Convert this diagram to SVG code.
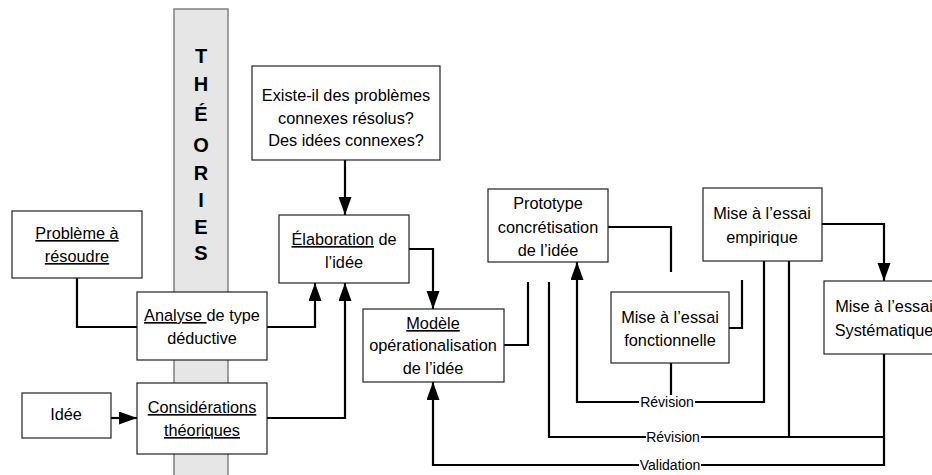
<svg xmlns="http://www.w3.org/2000/svg" width="932" height="475" viewBox="0 0 932 475">
<defs>
<style>
.box{fill:#fff;stroke:#222;stroke-width:1.2}
.t{font-family:"Liberation Sans",Arial,sans-serif;font-size:16.3px;fill:#000;text-anchor:middle}
.u{text-decoration:underline}
.lb{font-family:"Liberation Sans",Arial,sans-serif;font-size:14px;fill:#000;text-anchor:middle}
.th{font-family:"Liberation Sans",Arial,sans-serif;font-size:20px;font-weight:bold;fill:#000;text-anchor:middle}
.c{fill:none;stroke:#000;stroke-width:2.2}
.a{marker-end:url(#arr)}
</style>
<marker id="arr" markerUnits="userSpaceOnUse" markerWidth="20" markerHeight="14" refX="18" refY="6.5" orient="auto">
<path d="M0,0 L18,6.5 L0,13 z" fill="#000"/>
</marker>
</defs>
<rect width="932" height="475" fill="#fff"/>

<g id="theories">
<rect x="174" y="9" width="54" height="480" fill="#e6e6e6" stroke="#808080" stroke-width="1.5"/>
<text class="th" x="201" y="63">T</text>
<text class="th" x="201" y="91">H</text>
<text class="th" x="201" y="121">É</text>
<text class="th" x="201" y="152">O</text>
<text class="th" x="201" y="180">R</text>
<text class="th" x="201" y="207">I</text>
<text class="th" x="201" y="234">E</text>
<text class="th" x="201" y="260">S</text>
</g>

<g id="connectors">
<path class="c" d="M77,278 V327 H137"/>
<path class="c a" d="M111,418 H137"/>
<path class="c a" d="M267,327 H315 V283"/>
<path class="c a" d="M267,418 H345 V283"/>
<path class="c a" d="M345,160 V215"/>
<path class="c a" d="M409,249 H433 V309"/>
<path class="c" d="M504,345 H528 V282"/>
<path class="c" d="M608,227 H671 V272"/>
<path class="c" d="M729,328 H742 V280"/>
<path class="c a" d="M822,224 H884 V281"/>
<path class="c" d="M671,363 V395"/>
<path class="c" d="M764,261 V402 H695"/>
<path class="c a" d="M639,402 H577 V262"/>
<path class="c" d="M549,282 V437 H646"/>
<path class="c" d="M701,437 H884"/>
<path class="c" d="M789,261 V437"/>
<path class="c" d="M884,354 V465 H701"/>
<path class="c a" d="M639,465 H433 V382"/>
<text class="lb" x="667" y="407">Révision</text>
<text class="lb" x="673" y="442">Révision</text>
<text class="lb" x="670" y="470">Validation</text>
</g>

<g id="probleme">
<rect class="box" x="12" y="211" width="130" height="67"/>
<text class="t u" x="77" y="239">Problème à</text>
<text class="t u" x="77" y="262">résoudre</text>
</g>

<g id="analyse">
<rect class="box" x="137" y="292" width="130" height="68"/>
<text class="t" x="202" y="321"><tspan class="u">Analyse </tspan>de type</text>
<text class="t" x="202" y="344">déductive</text>
</g>

<g id="idee">
<rect class="box" x="22" y="393" width="89" height="45"/>
<text class="t" x="66" y="420">Idée</text>
</g>

<g id="considerations">
<rect class="box" x="137" y="383" width="130" height="71"/>
<text class="t u" x="202" y="413">Considérations</text>
<text class="t u" x="202" y="436">théoriques</text>
</g>

<g id="existe">
<rect class="box" x="252" y="66" width="188" height="94"/>
<text class="t" x="346" y="101">Existe-il des problèmes</text>
<text class="t" x="346" y="124">connexes résolus?</text>
<text class="t" x="346" y="146">Des idées connexes?</text>
</g>

<g id="elaboration">
<rect class="box" x="279" y="215" width="130" height="68"/>
<text class="t" x="344" y="245"><tspan class="u">Élaboration</tspan> de</text>
<text class="t" x="344" y="268">l’idée</text>
</g>

<g id="modele">
<rect class="box" x="363" y="309" width="141" height="73"/>
<text class="t u" x="433" y="329">Modèle</text>
<text class="t" x="433" y="351">opérationalisation</text>
<text class="t" x="433" y="374">de l’idée</text>
</g>

<g id="prototype">
<rect class="box" x="488" y="189" width="120" height="73"/>
<text class="t" x="548" y="209">Prototype</text>
<text class="t" x="548" y="233">concrétisation</text>
<text class="t" x="548" y="256">de l’idée</text>
</g>

<g id="fonctionnelle">
<rect class="box" x="611" y="292" width="118" height="71"/>
<text class="t" x="670" y="323">Mise à l’essai</text>
<text class="t" x="670" y="346">fonctionnelle</text>
</g>

<g id="empirique">
<rect class="box" x="703" y="188" width="119" height="73"/>
<text class="t" x="762" y="219">Mise à l’essai</text>
<text class="t" x="762" y="243">empirique</text>
</g>

<g id="systematique">
<rect class="box" x="824" y="281" width="124" height="73"/>
<text class="t" x="884" y="312">Mise à l’essai</text>
<text class="t" x="884" y="336">Systématique</text>
</g>
</svg>
